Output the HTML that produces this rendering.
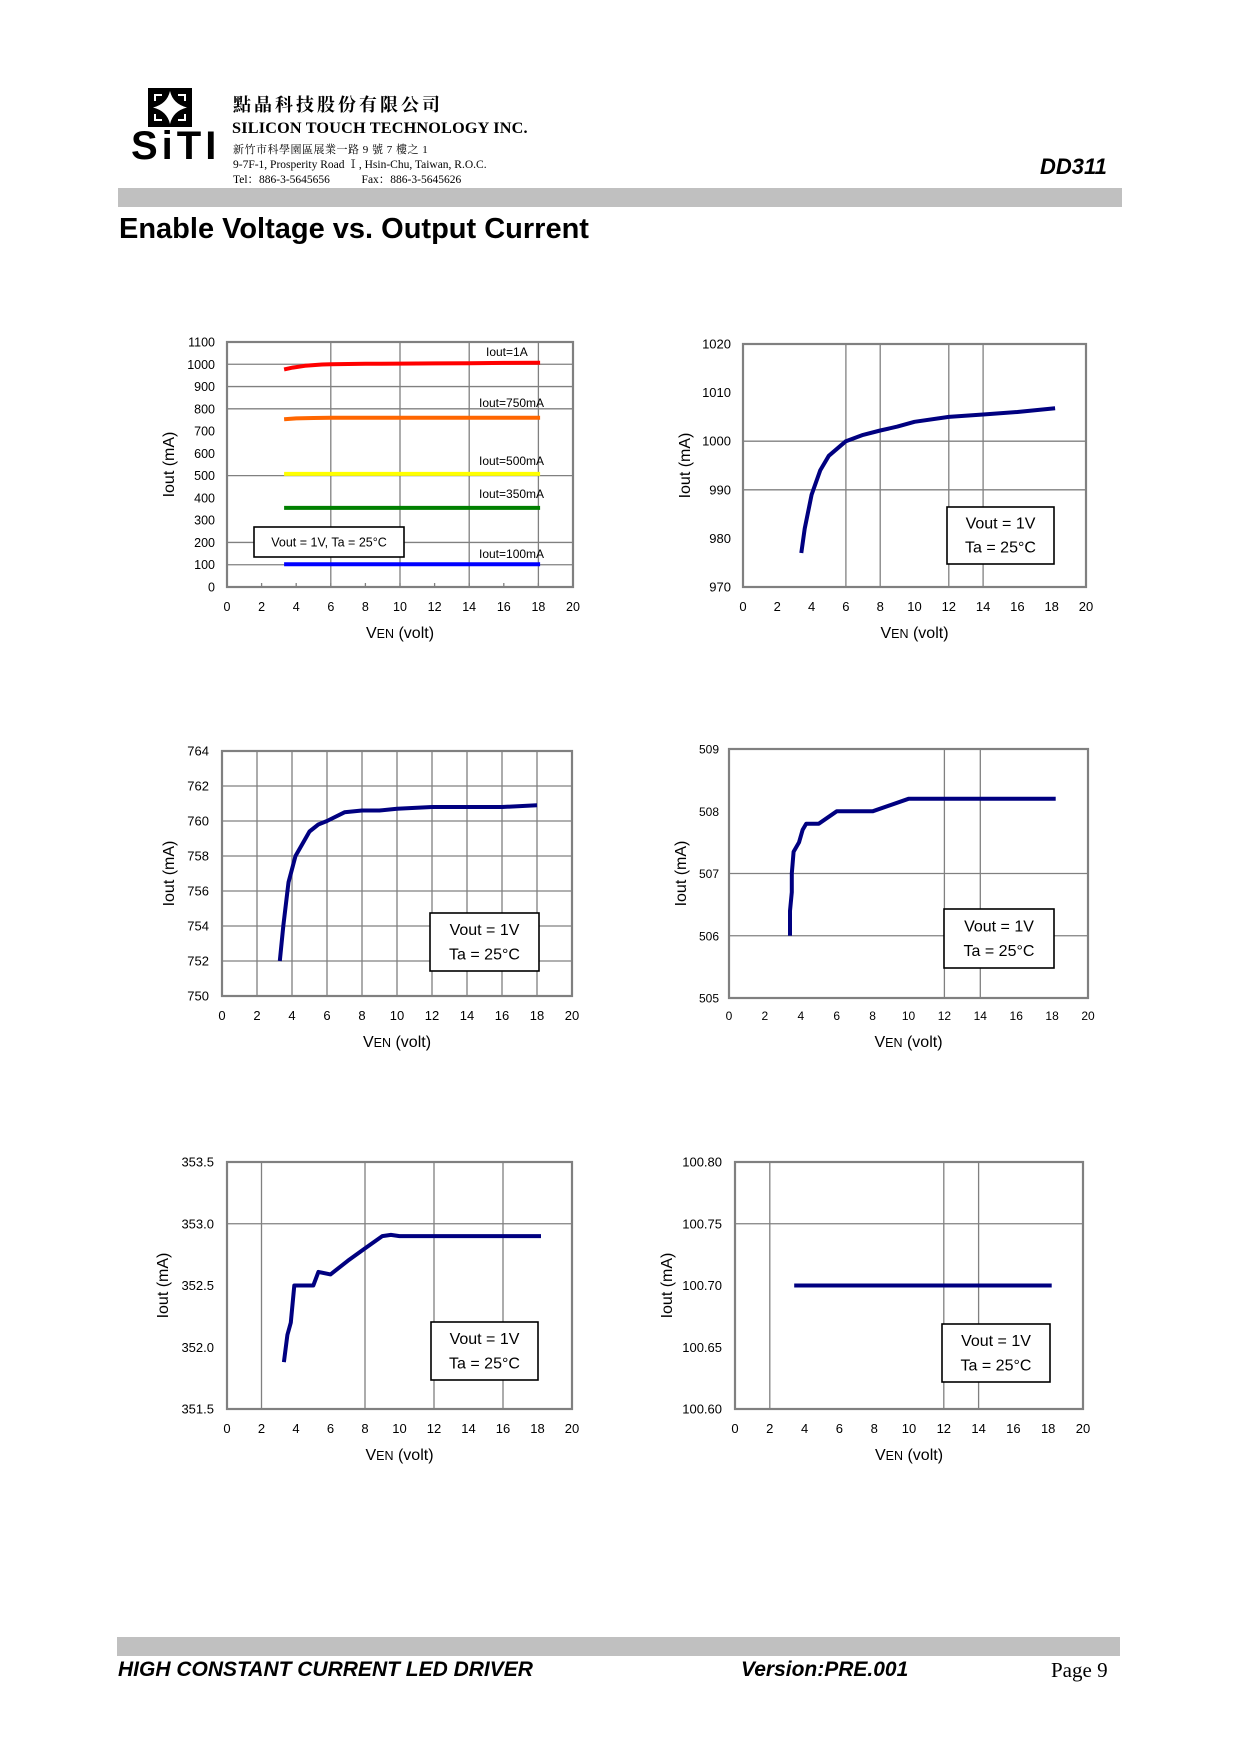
<!DOCTYPE html>
<html><head><meta charset="utf-8">
<style>
body{margin:0;background:#fff;}
#page{position:relative;width:1240px;height:1754px;overflow:hidden;background:#fff;font-family:"Liberation Sans",sans-serif;}
.abs{position:absolute;white-space:nowrap;}
.serif{font-family:"Liberation Serif","Noto Serif CJK SC",serif;}
</style></head>
<body>
<div id="page">
  <div class="abs" style="left:131px;top:86px;width:94px;height:92px;">
    <svg width="94" height="92" viewBox="0 0 94 92">
      <rect x="17" y="2" width="44" height="39" fill="#000"/>
      <path d="M39 5 Q42 18 56 21.5 Q42 25 39 38 Q36 25 22 21.5 Q36 18 39 5Z" fill="#fff"/>
      <path d="M23 8 L31 8 L31 10 L25 10 L25 15 L23 15Z M55 8 L47 8 L47 10 L53 10 L53 15 L55 15Z M23 35 L31 35 L31 33 L25 33 L25 28 L23 28Z M55 35 L47 35 L47 33 L53 33 L53 28 L55 28Z" fill="#fff"/>
      <text x="0" y="73" font-family="Liberation Sans" font-weight="bold" font-size="40" letter-spacing="4">SiTI</text>
    </svg>
  </div>
  <div class="abs serif" style="left:233px;top:91px;font-size:18px;font-weight:bold;letter-spacing:3px;">點晶科技股份有限公司</div>
  <div class="abs serif" style="left:232px;top:119px;font-size:16.2px;font-weight:bold;letter-spacing:0.2px;">SILICON TOUCH TECHNOLOGY INC.</div>
  <div class="abs serif" style="left:233px;top:141px;font-size:11px;letter-spacing:0.5px;">新竹市科學園區展業一路 9 號 7 樓之 1</div>
  <div class="abs serif" style="left:233px;top:156px;font-size:11.5px;">9-7F-1, Prosperity Road Ⅰ, Hsin-Chu, Taiwan, R.O.C.</div>
  <div class="abs serif" style="left:233px;top:171px;font-size:11.5px;">Tel：886-3-5645656&nbsp;&nbsp;&nbsp;&nbsp;&nbsp;&nbsp;&nbsp;&nbsp;&nbsp;&nbsp;&nbsp;Fax：886-3-5645626</div>
  <div class="abs" style="left:1040px;top:154px;font-size:22px;font-weight:bold;font-style:italic;">DD311</div>
  <div class="abs" style="left:118px;top:188px;width:1004px;height:19px;background:#c0c0c0;"></div>
  <div class="abs" style="left:119px;top:213px;font-size:29px;font-weight:bold;">Enable Voltage vs. Output Current</div>

  <svg id="charts" class="abs" style="left:0;top:0;" width="1240" height="1754"></svg>

  <div class="abs" style="left:117px;top:1637px;width:1003px;height:19px;background:#c0c0c0;"></div>
  <div class="abs" style="left:118px;top:1658px;font-size:21px;font-weight:bold;font-style:italic;">HIGH CONSTANT CURRENT LED DRIVER</div>
  <div class="abs" style="left:741px;top:1658px;font-size:21px;font-weight:bold;font-style:italic;">Version:PRE.001</div>
  <div class="abs serif" style="left:1051px;top:1658px;font-size:21px;">Page 9</div>
</div>
<script>
// Chart 1: multiple currents
const c1Series1A_x=[3.3,3.8,4.5,5.5,6,8,10,12,14,16,18.1];
const c1Series1A_y=[977,985,993,999,1000,1002,1003,1004,1005,1006,1007];
const c1Series750_x=[3.3,4,5,6,8,10,14,18.1];
const c1Series750_y=[753,757,759,760,760,760,760,760];
const c1Series500_x=[3.3,18.1];
const c1Series500_y=[508,508];
const c1Series350_x=[3.3,18.1];
const c1Series350_y=[355,355];
const c1Series100_x=[3.3,18.1];
const c1Series100_y=[102,102];
const c1YTicks=[0,100,200,300,400,500,600,700,800,900,1000,1100];
const c1YGrid=[100,200,500,800,900,1000];
const c1XGrid=[6,10,14,18];
// Chart 2: 1A
const c2X=[3.4,3.6,4,4.5,5,6,7,8,9,10,12,14,16,18.2];
const c2Y=[977,982,989,994,997,1000,1001.3,1002.2,1003,1004,1005,1005.5,1006,1006.8];
const c2YTicks=[970,980,990,1000,1010,1020];
const c2YGrid=[990,1000];
const c2XGrid=[6,8,12,14];
// Chart 3: 750mA
const c3X=[3.3,3.5,3.8,4.2,5,5.5,6,7,8,9,10,12,16,18];
const c3Y=[752,754,756.5,758,759.4,759.8,760,760.5,760.6,760.6,760.7,760.8,760.8,760.9];
const c3YTicks=[750,752,754,756,758,760,762,764];
const c3YGrid=[752,754,756,758,760,762];
const c3XGrid=[2,4,6,8,10,12,14,16,18];
// Chart 4: 500mA
const c4X=[3.4,3.4,3.5,3.5,3.6,3.9,4.1,4.3,5,6,8,10,18.2];
const c4Y=[506,506.4,506.7,507,507.35,507.5,507.7,507.8,507.8,508,508,508.2,508.2];
const c4YTicks=[505,506,507,508,509];
const c4YGrid=[506,507];
const c4XGrid=[12,14];
// Chart 5: 350mA
const c5X=[3.3,3.5,3.7,3.9,4.8,5,5.3,6,7,8,9,9.5,10,18.2];
const c5Y=[351.88,352.1,352.2,352.5,352.5,352.5,352.61,352.59,352.7,352.8,352.9,352.91,352.9,352.9];
const c5YTicks=[351.5,352.0,352.5,353.0,353.5];
const c5YGrid=[353.0];
const c5XGrid=[2,8,12,16];
// Chart 6: 100mA
const c6X=[3.4,18.2];
const c6Y=[100.70,100.70];
const c6YTicks=[100.60,100.65,100.70,100.75,100.80];
const c6YGrid=[100.75];
const c6XGrid=[2,12,14];
const xTicks=[0,2,4,6,8,10,12,14,16,18,20];

const NS='http://www.w3.org/2000/svg';
const root=document.getElementById('charts');
function mk(tag,attrs,parent){const e=document.createElementNS(NS,tag);for(const k in attrs)e.setAttribute(k,attrs[k]);(parent||root).appendChild(e);return e;}

function chart(o){
  const g=mk('g',{});
  
  
  const sx=v=>o.x0+(v-0)/20*(o.x1-o.x0);
  const sy=v=>o.y1-(v-o.ymin)/(o.ymax-o.ymin)*(o.y1-o.y0);
  o.yGrid.forEach(v=>{const l=mk('line',{x1:o.x0,x2:o.x1,y1:sy(v),y2:sy(v),stroke:'#808080','stroke-width':1.3},g);
    
    });
  o.xGrid.forEach(v=>{const l=mk('line',{x1:sx(v),x2:sx(v),y1:o.y0,y2:o.y1,stroke:'#808080','stroke-width':1.3},g);
    
    });
  const fr=mk('rect',{x:o.x0,y:o.y0,width:o.x1-o.x0,height:o.y1-o.y0,fill:'none',stroke:'#808080','stroke-width':2.2},g);
  
  
  o.yTicks.forEach(v=>{const t=mk('text',{x:o.x0-o.lab,y:sy(v)+4.5,'text-anchor':'end','font-size':o.fs,'font-family':'Liberation Sans',fill:'#000'},g);
    t.textContent=o.fmt(v);
    
    });
  xTicks.forEach(v=>{const t=mk('text',{x:sx(v),y:o.y1+o.xlab,'text-anchor':'middle','font-size':o.fs,'font-family':'Liberation Sans',fill:'#000'},g);
    t.textContent=v;
    
    
    if(o.ticks){const k=mk('line',{x1:sx(v),x2:sx(v),y1:o.y1,y2:o.y1-4,stroke:'#808080','stroke-width':1.3},g);
      
      }});
  const xt=mk('text',{x:(o.x0+o.x1)/2,y:o.y1+o.xlab+27,'text-anchor':'middle','font-size':16,'font-family':'Liberation Sans',fill:'#000'},g);
  xt.innerHTML='V<tspan font-size="12.5">EN</tspan> (volt)';
  
  
  const yx=o.ytx, yy=(o.y0+o.y1)/2;
  const yt=mk('text',{x:yx,y:yy,'text-anchor':'middle','font-size':16,'font-family':'Liberation Sans',fill:'#000',transform:'rotate(-90 '+yx+' '+yy+')'},g);
  yt.textContent='Iout (mA)';
  
  
  o.series.forEach(s=>{
    const d=s.x.map((v,i)=>(i?'L':'M')+sx(v).toFixed(1)+' '+sy(s.y[i]).toFixed(1)).join(' ');
    const p=mk('path',{d:d,fill:'none',stroke:s.color,'stroke-width':4,'stroke-linejoin':'round'},g);
    
    
    if(s.label){const t=mk('text',{x:s.lx,y:s.ly,'font-size':12,'font-family':'Liberation Sans',fill:'#000'},g);
      t.textContent=s.label;
      
      }
  });
  const b=o.box;
  const br=mk('rect',{x:b[0],y:b[1],width:b[2]-b[0],height:b[3]-b[1],fill:'#fff',stroke:'#000','stroke-width':1.6},g);
  
  
  const cx=(b[0]+b[2])/2;
  if(o.oneLine){const t=mk('text',{x:cx,y:(b[1]+b[3])/2+4.5,'text-anchor':'middle','font-size':12.5,'font-family':'Liberation Sans'},g);
    t.textContent='Vout = 1V, Ta = 25°C';
    
    }
  else{const h=b[3]-b[1];
    const t1=mk('text',{x:cx,y:b[1]+h*0.38,'text-anchor':'middle','font-size':16,'font-family':'Liberation Sans'},g);
    t1.textContent='Vout = 1V';
    
    
    const t2=mk('text',{x:cx,y:b[1]+h*0.8,'text-anchor':'middle','font-size':16,'font-family':'Liberation Sans'},g);
    t2.textContent='Ta = 25°C';
    
    }
}
const fInt=v=>String(v), f1=v=>v.toFixed(1), f2=v=>v.toFixed(2);
chart({name:'chart-all-currents',x0:227,x1:573,y0:342,y1:587,ymin:0,ymax:1100,yTicks:c1YTicks,yGrid:c1YGrid,xGrid:c1XGrid,fs:12.5,lab:12,xlab:24,ytx:174,fmt:fInt,ticks:true,oneLine:true,box:[254,527,404,557],
  series:[
   {name:'series-iout-1a',x:c1Series1A_x,y:c1Series1A_y,color:'#ff0000',label:'Iout=1A',lx:486,ly:356},
   {name:'series-iout-750ma',x:c1Series750_x,y:c1Series750_y,color:'#ff6600',label:'Iout=750mA',lx:479,ly:407},
   {name:'series-iout-500ma',x:c1Series500_x,y:c1Series500_y,color:'#ffff00',label:'Iout=500mA',lx:479,ly:465},
   {name:'series-iout-350ma',x:c1Series350_x,y:c1Series350_y,color:'#008000',label:'Iout=350mA',lx:479,ly:498},
   {name:'series-iout-100ma',x:c1Series100_x,y:c1Series100_y,color:'#0000ff',label:'Iout=100mA',lx:479,ly:558}]});
chart({name:'chart-1a',x0:743,x1:1086,y0:344,y1:587,ymin:970,ymax:1020,yTicks:c2YTicks,yGrid:c2YGrid,xGrid:c2XGrid,fs:13,lab:12,xlab:24,ytx:690,fmt:fInt,box:[947,507,1054,564],
  series:[{name:'series-1a',x:c2X,y:c2Y,color:'#000080'}]});
chart({name:'chart-750ma',x0:222,x1:572,y0:751,y1:996,ymin:750,ymax:764,yTicks:c3YTicks,yGrid:c3YGrid,xGrid:c3XGrid,fs:13,lab:13,xlab:24,ytx:174,fmt:fInt,box:[430,913,539,971],
  series:[{name:'series-750ma',x:c3X,y:c3Y,color:'#000080'}]});
chart({name:'chart-500ma',x0:729,x1:1088,y0:749,y1:998,ymin:505,ymax:509,yTicks:c4YTicks,yGrid:c4YGrid,xGrid:c4XGrid,fs:12,lab:10,xlab:22,ytx:686,fmt:fInt,box:[944,909,1054,968],
  series:[{name:'series-500ma',x:c4X,y:c4Y,color:'#000080'}]});
chart({name:'chart-350ma',x0:227,x1:572,y0:1162,y1:1409,ymin:351.5,ymax:353.5,yTicks:c5YTicks,yGrid:c5YGrid,xGrid:c5XGrid,fs:13,lab:13,xlab:24,ytx:168,fmt:f1,box:[431,1322,538,1380],
  series:[{name:'series-350ma',x:c5X,y:c5Y,color:'#000080'}]});
chart({name:'chart-100ma',x0:735,x1:1083,y0:1162,y1:1409,ymin:100.60,ymax:100.80,yTicks:c6YTicks,yGrid:c6YGrid,xGrid:c6XGrid,fs:13,lab:13,xlab:24,ytx:672,fmt:f2,box:[942,1324,1050,1382],
  series:[{name:'series-100ma',x:c6X,y:c6Y,color:'#000080'}]});
</script>
</body></html>
